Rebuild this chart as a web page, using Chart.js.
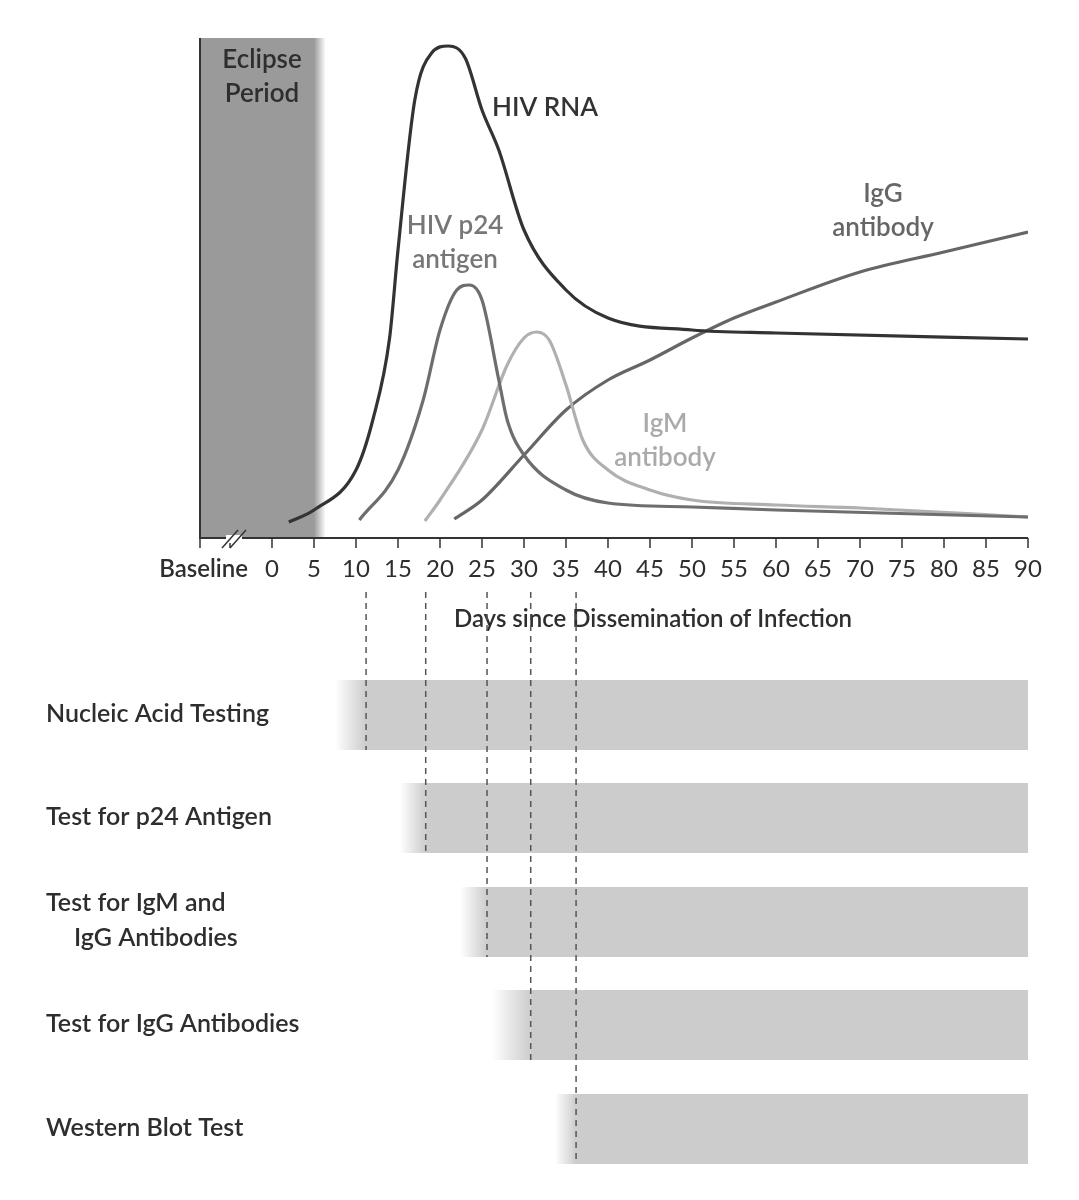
<!DOCTYPE html>
<html><head><meta charset="utf-8">
<script src="https://cdn.jsdelivr.net/npm/chart.js@4"></script>
<style>html,body{margin:0;padding:0;background:#fff}#w{width:1079px;height:1200px}</style>
</head><body><div id="w"><canvas id="c"></canvas></div>
<script>
const xTicks=[0,5,10,15,20,25,30,35,40,45,50,55,60,65,70,75,80,85,90];
const rnaX=[2,5,10,12,14,15,17,19,21,23,25,27,30,35,40,50,60,90];
const rnaY=[3.2,5.6,13.6,23.6,40,57.6,87.6,97,98.4,96,85.6,77.6,61.6,49.6,44,41.6,41,39.8];
const p24X=[10.4,15,18,20,22,23.5,25,27,28,30,35,40,50,60,90];
const p24Y=[3.6,13.6,27.6,41.6,49.6,50.6,47.6,31.6,23.6,16.6,9.6,7,6.2,5.6,4.2];
const igmX=[18.2,20,25,28,30,31.5,33,35,37,40,45,50,60,70,90];
const igmY=[3.4,7.6,21.6,34.6,40,41.2,39.6,30.6,19.6,13.6,9.6,7.6,6.6,6,4.2];
const iggX=[21.7,25,30,35,40,45,50,55,60,70,80,90];
const iggY=[3.8,7.6,16.6,25.6,31.6,35.6,40,44,47.2,53.2,57.2,61.2];
const tests=["Nucleic Acid Testing","Test for p24 Antigen","Test for IgM and|IgG Antibodies","Test for IgG Antibodies","Western Blot Test"];
const testFadeStart=[7.5,15.2,22.4,26.2,33.7];
const testDetect=[11.2,18.3,25.6,30.8,36.2];
const eclipseEnd=5;
const F='Lato, "Open Sans", sans-serif';
const pts=(xs,ys)=>xs.map((x,i)=>({x,y:ys[i]}));
const ds=(d,c)=>({data:d,borderColor:c,borderWidth:3.2,pointRadius:0,cubicInterpolationMode:'monotone',fill:false});
const deco={id:'deco',
beforeDatasetsDraw(ch){const c=ch.ctx,xs=ch.scales.x,a=ch.chartArea;
 const x0=a.left,x1=xs.getPixelForValue(eclipseEnd),x2=xs.getPixelForValue(eclipseEnd+1.4);
 c.save();c.fillStyle='#9a9a9a';c.fillRect(x0,a.top,x1-x0,a.bottom-a.top);
 const g=c.createLinearGradient(x1,0,x2,0);g.addColorStop(0,'#9a9a9a');g.addColorStop(1,'rgba(154,154,154,0)');
 c.fillStyle=g;c.fillRect(x1,a.top,x2-x1,a.bottom-a.top);
 c.fillStyle='#2e2e2e';c.font='600 26px '+F;c.textAlign='center';c.textBaseline='middle';
 c.fillText('Eclipse',262,60);c.fillText('Period',262,94);c.restore();},
afterDatasetsDraw(ch){const c=ch.ctx,xs=ch.scales.x,a=ch.chartArea;c.save();
 c.strokeStyle='#333';c.lineWidth=2;c.beginPath();c.moveTo(a.left,a.top);c.lineTo(a.left,a.bottom);c.lineTo(a.right,a.bottom);c.stroke();
 c.lineWidth=1.5;c.beginPath();
 const tk=[a.left,a.left+30].concat(xTicks.map(v=>xs.getPixelForValue(v)));
 tk.forEach(p=>{c.moveTo(p,a.bottom);c.lineTo(p,a.bottom+10);});c.stroke();
 c.fillStyle='#fff';c.fillRect(226,a.bottom-3,16,8);
 c.beginPath();c.moveTo(222,a.bottom+10);c.lineTo(238,a.bottom-8);c.moveTo(230,a.bottom+10);c.lineTo(246,a.bottom-8);c.stroke();
 c.fillStyle='#2e2e2e';c.font='24px '+F;c.textAlign='center';c.textBaseline='middle';
 xTicks.forEach(v=>c.fillText(String(v),xs.getPixelForValue(v),569));
 c.font='600 24px '+F;c.textAlign='right';c.fillText('Baseline',248,569);
 c.textAlign='center';c.fillText('Days since Dissemination of Infection',653,619);
 c.font='600 26px '+F;c.textAlign='left';c.fillStyle='#333';c.fillText('HIV RNA',492,108);
 c.textAlign='center';c.fillStyle='#777';c.fillText('HIV p24',455,226);c.fillText('antigen',455,260);
 c.fillStyle='#aaa';c.fillText('IgM',665,424);c.fillText('antibody',665,458);
 c.fillStyle='#666';c.fillText('IgG',883,194);c.fillText('antibody',883,228);
 const rows=[680,783,887,990,1094],h=70,xe=xs.getPixelForValue(90);
 rows.forEach((t,i)=>{const s=xs.getPixelForValue(testFadeStart[i]),d=xs.getPixelForValue(testDetect[i]);
  const g=c.createLinearGradient(s,0,d,0);g.addColorStop(0,'rgba(204,204,204,0)');g.addColorStop(1,'#cccccc');
  c.fillStyle=g;c.fillRect(s,t,d-s,h);c.fillStyle='#cccccc';c.fillRect(d,t,xe-d,h);
  c.fillStyle='#2e2e2e';c.font='600 25px '+F;c.textAlign='left';
  const L=tests[i].split('|');
  if(L.length>1){c.fillText(L[0],46,t+16);c.fillText(L[1],74,t+51);}else c.fillText(L[0],46,t+34);});
 c.strokeStyle='#555';c.lineWidth=1.5;c.setLineDash([6,5]);
 testDetect.forEach((v,i)=>{const p=xs.getPixelForValue(v);c.beginPath();c.moveTo(p,592);c.lineTo(p,rows[i]+h);c.stroke();});
 c.restore();}};
new Chart(document.getElementById('c'),{type:'line',
data:{datasets:[ds(pts(rnaX,rnaY),'#333'),ds(pts(p24X,p24Y),'#6e6e6e'),ds(pts(igmX,igmY),'#b0b0b0'),ds(pts(iggX,iggY),'#666')]},
options:{responsive:true,maintainAspectRatio:false,animation:false,events:[],
layout:{padding:{left:200,right:51,top:38,bottom:662}},
plugins:{legend:{display:false},tooltip:{enabled:false}},
scales:{x:{type:'linear',min:-8.57,max:90,display:false},y:{min:0,max:100,display:false}}},
plugins:[deco]});
</script></body></html>
